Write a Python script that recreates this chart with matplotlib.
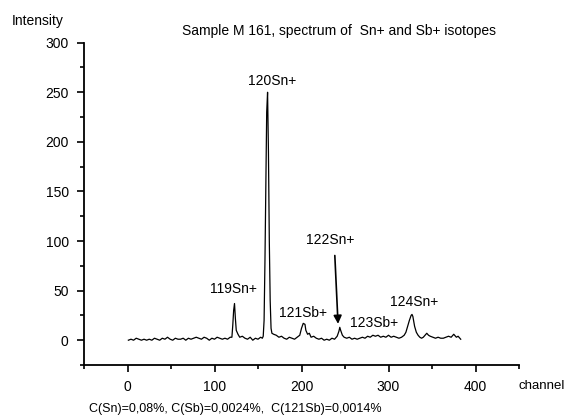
import matplotlib
matplotlib.use("Agg")
import matplotlib.pyplot as plt
from matplotlib.ticker import MultipleLocator

plt.rcParams['font.family'] = ['Liberation Sans', 'DejaVu Sans']

# --- data ---
channel = [1, 4, 7, 10, 13, 16, 19, 22, 25, 28, 31, 34, 37, 40, 43, 46, 49, 52, 55, 58,
           61, 64, 67, 70, 73, 76, 79, 82, 85, 88, 91, 94, 97, 100, 103, 106, 109, 112, 115, 118,
           120, 121, 122, 123, 124, 125, 127, 129, 132, 135, 138, 141, 144, 147, 150, 153, 155, 156,
           157, 158, 159, 160, 161, 162, 163, 164, 165, 166, 168, 171, 174, 177, 180, 183, 186, 189,
           192, 195, 198, 200, 202, 204, 205, 207, 209, 211, 214, 217, 220, 223, 226, 229, 232, 235,
           238, 241, 243, 244, 245, 247, 249, 252, 255, 258, 261, 264, 267, 270, 273, 276, 279, 282,
           285, 288, 291, 294, 297, 300, 303, 306, 309, 312, 315, 318, 320, 322, 324, 326, 327, 328,
           330, 332, 334, 336, 338, 340, 342, 344, 346, 348, 351, 354, 357, 360, 363, 366, 369, 372,
           374, 375, 376, 378, 380, 382, 383]
intensity = [0, 1, 0, 2, 1, 0, 1, 0, 1, 0, 2, 1, 0, 2, 1, 3, 1, 0, 2, 1,
             1, 2, 0, 2, 1, 2, 3, 2, 1, 3, 2, 0, 2, 1, 3, 2, 1, 2, 1, 3,
             3, 15, 30, 37, 22, 10, 6, 3, 4, 2, 1, 3, 0, 2, 1, 3, 2, 4,
             20, 80, 160, 230, 250, 190, 100, 40, 12, 7, 6, 5, 3, 4, 2, 1, 3, 2,
             1, 3, 5, 12, 17, 16, 10, 6, 7, 3, 4, 2, 1, 2, 0, 1, 0, 2,
             1, 4, 9, 13, 10, 5, 3, 2, 3, 1, 2, 1, 2, 3, 2, 4, 3, 5,
             4, 5, 3, 4, 3, 5, 3, 4, 3, 2, 3, 5, 8, 14, 20, 25, 26, 24,
             14, 8, 5, 3, 2, 3, 5, 7, 5, 4, 3, 2, 3, 2, 2, 3, 4, 3,
             5, 6, 5, 3, 4, 2, 1]

peak_labels = ["119Sn+", "120Sn+", "121Sb+", "122Sn+", "123Sb+", "124Sn+"]
label_x = [122, 166, 202, 233, 283, 330]
label_y = [51.6, 261.5, 27.9, 101, 17.2, 39]

title = "Sample M 161, spectrum of  Sn+ and Sb+ isotopes"
note = "C(Sn)=0,08%, C(Sb)=0,0024%,  C(121Sb)=0,0014%"

fig = plt.figure(figsize=(5.67, 4.19), dpi=100)
ax = fig.add_axes([84/567, 1 - 365/419, (519 - 84)/567, (365 - 42.7)/419])

ax.plot(channel, intensity, color='black', lw=0.9)

ax.set_xlim(-50, 450)
ax.set_ylim(-25, 300)
ax.xaxis.set_minor_locator(MultipleLocator(50))
ax.yaxis.set_minor_locator(MultipleLocator(25))
ax.set_xticks([0, 100, 200, 300, 400])
ax.set_yticks([0, 50, 100, 150, 200, 250, 300])

for s in ['top', 'right']:
    ax.spines[s].set_visible(False)
for s in ['left', 'bottom']:
    ax.spines[s].set_linewidth(1.3)

ax.tick_params(which='major', direction='out', length=5, width=1.2, labelsize=10, pad=6)
ax.tick_params(which='minor', direction='out', length=3, width=1.2)

for lab, x, y in zip(peak_labels, label_x, label_y):
    ax.text(x, y, lab, ha='center', va='center', fontsize=10)

ax.annotate("", xy=(242, 16.5), xytext=(238.3, 85.4),
            arrowprops=dict(arrowstyle='-|>', color='black', lw=1.2,
                            mutation_scale=12, shrinkA=0, shrinkB=0))

fig.text(12/567, 1 - 20.7/419, "Intensity", ha='left', va='center', fontsize=10)
fig.text(339/567, 1 - 30.7/419, title, ha='center', va='center', fontsize=10)
fig.text(565/567, 1 - 386/419, "channel", ha='right', va='center', fontsize=9.5)
fig.text(89/567, 1 - 409/419, note, ha='left', va='center', fontsize=9)

fig.savefig("out.png", dpi=100)
